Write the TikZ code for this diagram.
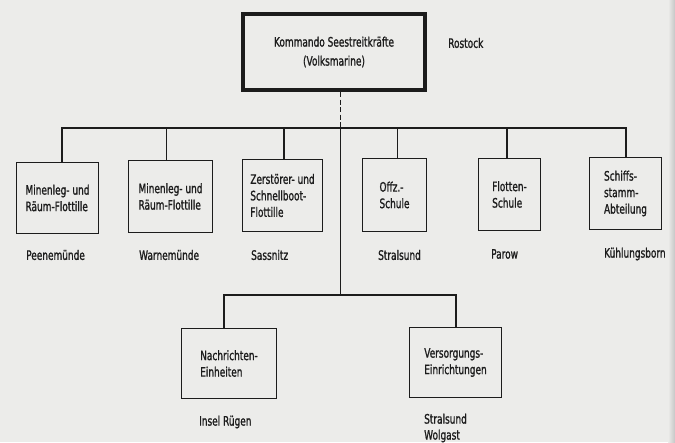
\documentclass[tikz,border=0pt]{standalone}
\usepackage{fontspec}
\setmainfont{DejaVu Sans}[FakeStretch=0.69, FakeBold=1.2]
\definecolor{paper}{RGB}{236,236,234}
\definecolor{ink}{RGB}{28,28,28}
\tikzset{
  unit/.style={draw=ink, line width=1.3pt, align=left, inner sep=0pt, text=ink,
    font=\fontsize{13}{16.5}\selectfont},
  place/.style={anchor=west, inner sep=0pt, align=left, text=ink,
    font=\fontsize{13}{16}\selectfont},
  link/.style={draw=ink, line width=1.3pt},
}
\begin{document}
\begin{tikzpicture}[x=1pt, y=-1pt]
    % paper
    \fill[paper] (0,0) rectangle (675,442);
    \shade[left color=paper, right color=gray!45] (668,0) rectangle (675,442);
    \useasboundingbox (0,0) rectangle (675,442);
    % top
    \node[unit, line width=4pt, align=center, minimum width=182pt, minimum height=76pt,
      font=\fontsize{13}{19}\selectfont] (ks) at (334,52) {Kommando Seestreitkräfte\\(Volksmarine)};
    \node[place] (rostock) at (448,43) {Rostock};
    \coordinate (hub) at (340.7,128);
    \coordinate (lowhub) at (340.7,295);
    % row 1
    \node[unit, minimum width=82pt, minimum height=71pt] (mr1) at (57.5,198) {Minenleg- und\\Räum-Flottille};
    \node[unit, minimum width=84pt, minimum height=72pt] (mr2) at (170.5,196.5) {Minenleg- und\\Räum-Flottille};
    \node[unit, minimum width=80pt, minimum height=72pt] (zs) at (282.5,195.5) {Zerstörer- und\\Schnellboot-\\Flottille};
    \node[unit, minimum width=64pt, minimum height=73pt] (os) at (394.5,195) {Offz.-\\Schule};
    \node[unit, minimum width=62pt, minimum height=72pt] (fs) at (509.5,194.5) {Flotten-\\Schule};
    \node[unit, minimum width=72pt, minimum height=72pt] (ssa) at (625.5,193.5) {Schiffs-\\stamm-\\Abteilung};
    \node[place] (peene) at (26,255) {Peenemünde};
    \node[place] (warne) at (139,255) {Warnemünde};
    \node[place] (sass) at (251,255) {Sassnitz};
    \node[place] (stral) at (378,255) {Stralsund};
    \node[place] (parow) at (491,254) {Parow};
    \node[place] (kuehl) at (604,254) {Kühlungsborn};
    % row 2
    \node[unit, minimum width=95pt, minimum height=70pt] (ne) at (229,363.5) {Nachrichten-\\Einheiten};
    \node[unit, minimum width=92pt, minimum height=70pt] (ve) at (455.5,362.5) {Versorgungs-\\Einrichtungen};
    \node[place] (ruegen) at (199,422) {Insel Rügen};
    \node[place] (strwol) at (424,428) {Stralsund\\Wolgast};
    % lines
    \draw[link, dash pattern=on 5pt off 2.5pt] ([xshift=6.7pt]ks.south) -- (hub);
    \draw[link] ([xshift=4.5pt]mr1.north) |- (hub) -| ([xshift=0.5pt]ssa.north);
    \draw[link] (hub) -| ([xshift=-3.8pt]mr2.north);
    \draw[link] (hub) -| ([xshift=1.5pt]zs.north);
    \draw[link] (hub) -| ([xshift=3.2pt]os.north);
    \draw[link] (hub) -| ([xshift=-2.5pt]fs.north);
    \draw[link] (hub) -- (lowhub);
    \draw[link] ([xshift=-5pt]ne.north) |- (lowhub) -| ([xshift=0.5pt]ve.north);
\end{tikzpicture}
\end{document}
